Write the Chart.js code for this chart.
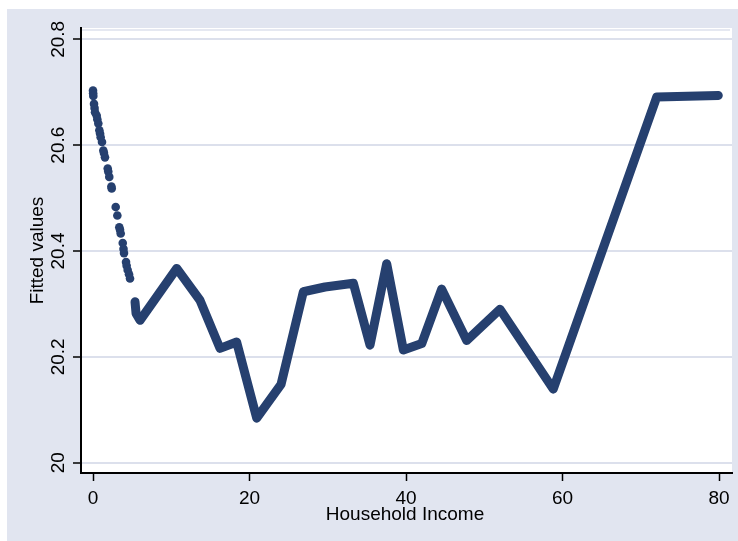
<!DOCTYPE html>
<html><head><meta charset="utf-8">
<script src="https://cdn.jsdelivr.net/npm/chart.js@4.4.0/dist/chart.umd.min.js"></script>
<style>
html,body{margin:0;padding:0;background:#fff;}
#wrap{position:absolute;left:7px;top:9px;width:731px;height:532px;}
</style></head><body>
<div id="wrap"><canvas id="c"></canvas></div>
<script>
const xTicks = [0, 20, 40, 60, 80];
const xTickLabels = ['0', '20', '40', '60', '80'];
const yTicks = [20, 20.2, 20.4, 20.6, 20.8];
const yTickLabels = ['20', '20.2', '20.4', '20.6', '20.8'];
const xTitle = 'Household Income';
const yTitle = 'Fitted values';

// sparse early observations (separate dots)
const incomeDots = [0.0, 0.02, 0.04, 0.13, 0.20, 0.26, 0.47, 0.55, 0.68, 0.81, 0.90, 0.98, 1.15, 1.32, 1.40, 1.53, 1.88, 1.95, 2.08, 2.35, 2.39, 2.90, 3.11, 3.36, 3.45, 3.54, 3.80, 3.90, 3.96, 4.22, 4.30, 4.43, 4.60, 4.73];
const fittedDots = [20.703, 20.698, 20.693, 20.678, 20.670, 20.662, 20.656, 20.649, 20.641, 20.628, 20.622, 20.615, 20.606, 20.590, 20.585, 20.577, 20.556, 20.550, 20.540, 20.522, 20.518, 20.483, 20.467, 20.445, 20.440, 20.433, 20.415, 20.404, 20.396, 20.379, 20.372, 20.364, 20.356, 20.348];

// dense observations forming a continuous band (vertices)
const incomeLine = [5.37, 5.50, 6.01, 10.70, 13.67, 16.23, 18.36, 20.92, 24.03, 26.88, 29.65, 33.27, 35.40, 37.53, 39.66, 42.01, 44.56, 47.76, 52.01, 58.82, 72.04, 79.91];
const fittedLine = [20.304, 20.282, 20.269, 20.367, 20.307, 20.216, 20.228, 20.084, 20.148, 20.323, 20.332, 20.339, 20.222, 20.376, 20.213, 20.225, 20.328, 20.231, 20.290, 20.139, 20.691, 20.694];

const NAVY = '#26406F';
const BG = '#E1E5F0';
const GRID = '#DCE0EC';
const FONT = '19px "Liberation Sans", Arial, sans-serif';

const decor = {
  id: 'decor',
  beforeDraw(chart) {
    const {ctx, chartArea: a} = chart;
    ctx.save();
    ctx.fillStyle = BG;
    ctx.fillRect(0, 0, chart.width, chart.height);
    ctx.fillStyle = '#fff';
    ctx.fillRect(a.left, a.top, a.right - a.left, a.bottom - a.top);
    ctx.strokeStyle = GRID;
    ctx.lineWidth = 1.5;
    ctx.beginPath();
    ctx.moveTo(a.left, a.top + 2);
    ctx.lineTo(a.right - 2, a.top + 2);
    ctx.stroke();
    ctx.restore();
  },
  afterDraw(chart) {
    const {ctx, chartArea: a, scales} = chart;
    const xs = scales.x, ys = scales.y;
    ctx.save();
    ctx.font = FONT;
    ctx.fillStyle = '#000';
    ctx.textBaseline = 'alphabetic';
    ctx.textAlign = 'center';
    yTicks.forEach((v, i) => {
      const y = ys.getPixelForValue(v);
      ctx.save();
      ctx.translate(57, y);
      ctx.rotate(-Math.PI / 2);
      ctx.fillText(yTickLabels[i], 0, 0);
      ctx.restore();
    });
    ctx.save();
    ctx.translate(36, (a.top + a.bottom) / 2);
    ctx.rotate(-Math.PI / 2);
    ctx.fillText(yTitle, 0, 0);
    ctx.restore();
    xTicks.forEach((v, i) => {
      ctx.fillText(xTickLabels[i], xs.getPixelForValue(v), 495);
    });
    ctx.fillText(xTitle, (a.left + a.right) / 2 - 1.5, 510.5);
    ctx.restore();
  }
};

new Chart(document.getElementById('c'), {
  type: 'scatter',
  data: {
    datasets: [
      {
        data: incomeLine.map((x, i) => ({x, y: fittedLine[i]})),
        showLine: true,
        borderColor: NAVY,
        borderWidth: 9,
        borderJoinStyle: 'round',
        borderCapStyle: 'round',
        tension: 0,
        pointRadius: 0,
        pointHoverRadius: 0
      },
      {
        data: incomeDots.map((x, i) => ({x, y: fittedDots[i]})),
        showLine: false,
        backgroundColor: NAVY,
        borderWidth: 0,
        pointRadius: 4.3,
        pointHoverRadius: 4.3
      }
    ]
  },
  options: {
    responsive: true,
    maintainAspectRatio: false,
    animation: false,
    events: [],
    layout: {padding: {left: 0, top: 19, right: 6, bottom: 0}},
    plugins: {legend: {display: false}, tooltip: {enabled: false}},
    scales: {
      x: {
        type: 'linear',
        min: -1.534,
        max: 81.66,
        afterBuildTicks: s => { s.ticks = xTicks.map(v => ({value: v})); },
        afterFit: s => { s.height = 68; },
        ticks: {display: false},
        grid: {drawOnChartArea: false, drawTicks: true, tickLength: 8, tickColor: '#000', tickWidth: 1.5},
        border: {display: true, color: '#000', width: 2}
      },
      y: {
        type: 'linear',
        min: 19.9805,
        max: 20.8214,
        afterBuildTicks: s => { s.ticks = yTicks.map(v => ({value: v})); },
        afterFit: s => { s.width = 74; },
        ticks: {display: false},
        grid: {color: GRID, lineWidth: 2, drawTicks: true, tickLength: 8, tickColor: '#000', tickWidth: 1.5},
        border: {display: true, color: '#000', width: 2}
      }
    }
  },
  plugins: [decor]
});
</script>
</body></html>
